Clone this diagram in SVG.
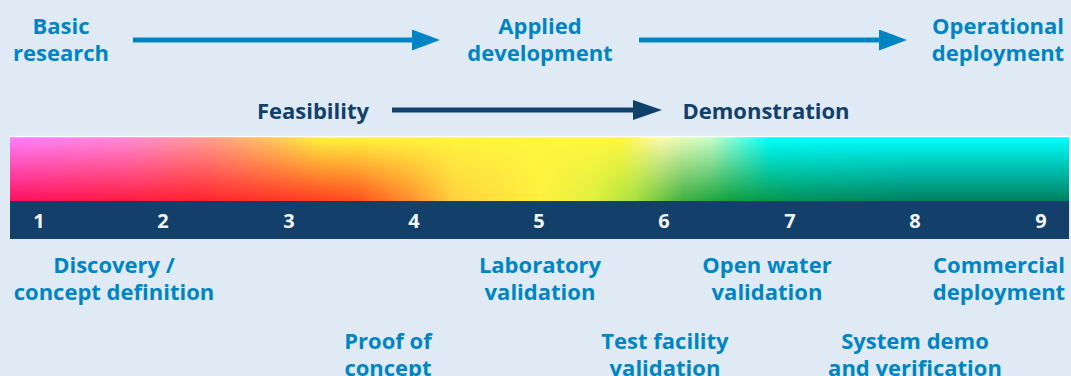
<svg xmlns="http://www.w3.org/2000/svg" width="1071" height="376" viewBox="0 0 1071 376">
<style>
text{font-family:"Open Sans","Noto Sans","Liberation Sans",sans-serif;font-weight:700;text-anchor:middle}
.lt{fill:#0085c4;font-size:22px}
.dk{fill:#11406b;font-size:22px}
.num{fill:#f2f6fa;font-size:20px}
.la{stroke:#0085c4;stroke-width:5;fill:none}
.da{stroke:#11406b;stroke-width:5;fill:none}
</style>
<defs>
<marker id="hl" viewBox="0 0 28 21" refX="18" refY="10.5" markerWidth="28" markerHeight="21" markerUnits="userSpaceOnUse" orient="auto">
<path d="M0,0 L28,10.5 L0,21 Z" fill="#0085c4"/>
</marker>
<marker id="hd" viewBox="0 0 29 20" refX="19" refY="10" markerWidth="29" markerHeight="20" markerUnits="userSpaceOnUse" orient="auto">
<path d="M0,0 L29,10 L0,20 Z" fill="#11406b"/>
</marker>
<linearGradient id="gTop" x1="0" y1="0" x2="1" y2="0">
<stop offset="0" stop-color="#ff80ff"/>
<stop offset="0.113" stop-color="#ff8cd8"/>
<stop offset="0.19" stop-color="#ffa090"/>
<stop offset="0.246" stop-color="#ffc860"/>
<stop offset="0.293" stop-color="#fff540"/>
<stop offset="0.577" stop-color="#fff740"/>
<stop offset="0.614" stop-color="#fffab0"/>
<stop offset="0.662" stop-color="#c8ffc8"/>
<stop offset="0.718" stop-color="#00ffff"/>
<stop offset="1" stop-color="#00ffff"/>
</linearGradient>
<linearGradient id="gBot" x1="0" y1="0" x2="1" y2="0">
<stop offset="0" stop-color="#ff1060"/>
<stop offset="0.17" stop-color="#ff2030"/>
<stop offset="0.3" stop-color="#ff4020"/>
<stop offset="0.33" stop-color="#ff5020"/>
<stop offset="0.38" stop-color="#ff9030"/>
<stop offset="0.42" stop-color="#ffd040"/>
<stop offset="0.5" stop-color="#fff040"/>
<stop offset="0.55" stop-color="#e0f040"/>
<stop offset="0.59" stop-color="#a8e040"/>
<stop offset="0.635" stop-color="#40b040"/>
<stop offset="0.68" stop-color="#10a040"/>
<stop offset="0.75" stop-color="#00905a"/>
<stop offset="0.85" stop-color="#008060"/>
<stop offset="1" stop-color="#008060"/>
</linearGradient>
<linearGradient id="gV" x1="0" y1="0" x2="0" y2="1">
<stop offset="0" stop-color="#fff" stop-opacity="0"/>
<stop offset="1" stop-color="#fff" stop-opacity="1"/>
</linearGradient>
<mask id="mV" maskContentUnits="userSpaceOnUse">
<rect x="10" y="137" width="1059" height="64" fill="url(#gV)"/>
</mask>
</defs>
<rect width="1071" height="376" fill="#e0eaf5"/>
<g id="scale">
<rect x="10" y="137" width="1059" height="64" fill="url(#gTop)"/>
<rect x="10" y="137" width="1059" height="64" fill="url(#gBot)" mask="url(#mV)"/>
<line x1="10" y1="136.5" x2="1069" y2="136.5" stroke="#ffffff" stroke-opacity="0.85" stroke-width="1.5"/>
<rect x="10" y="201" width="1059" height="38" fill="#12406b"/>
<text class="num" x="39" y="228">1</text>
<text class="num" x="163" y="228">2</text>
<text class="num" x="289" y="228">3</text>
<text class="num" x="414" y="228">4</text>
<text class="num" x="539" y="228">5</text>
<text class="num" x="664" y="228">6</text>
<text class="num" x="790" y="228">7</text>
<text class="num" x="915" y="228">8</text>
<text class="num" x="1041" y="228">9</text>
</g>
<g id="connectors">
<line class="la" x1="133" y1="40" x2="430" y2="40" marker-end="url(#hl)"/>
<line class="la" x1="639" y1="40" x2="897" y2="40" marker-end="url(#hl)"/>
<line class="da" x1="392" y1="110" x2="652" y2="110" marker-end="url(#hd)"/>
</g>
<g id="basic-research"><text class="lt" x="61" y="34">Basic</text><text class="lt" x="61" y="61">research</text></g>
<g id="applied-development"><text class="lt" x="540" y="34">Applied</text><text class="lt" x="540" y="61">development</text></g>
<g id="operational-deployment"><text class="lt" x="998" y="34">Operational</text><text class="lt" x="998" y="61">deployment</text></g>
<g id="feasibility"><text class="dk" x="313" y="119">Feasibility</text></g>
<g id="demonstration"><text class="dk" x="766" y="119">Demonstration</text></g>
<g id="discovery"><text class="lt" x="114" y="273">Discovery /</text><text class="lt" x="114" y="300">concept definition</text></g>
<g id="laboratory"><text class="lt" x="540" y="273">Laboratory</text><text class="lt" x="540" y="300">validation</text></g>
<g id="open-water"><text class="lt" x="767" y="273">Open water</text><text class="lt" x="767" y="300">validation</text></g>
<g id="commercial"><text class="lt" x="999" y="273">Commercial</text><text class="lt" x="999" y="300">deployment</text></g>
<g id="proof"><text class="lt" x="388" y="349">Proof of</text><text class="lt" x="388" y="375.5">concept</text></g>
<g id="test-facility"><text class="lt" x="665" y="349">Test facility</text><text class="lt" x="665" y="375.5">validation</text></g>
<g id="system-demo"><text class="lt" x="915" y="349">System demo</text><text class="lt" x="915" y="375.5">and verification</text></g>
</svg>
